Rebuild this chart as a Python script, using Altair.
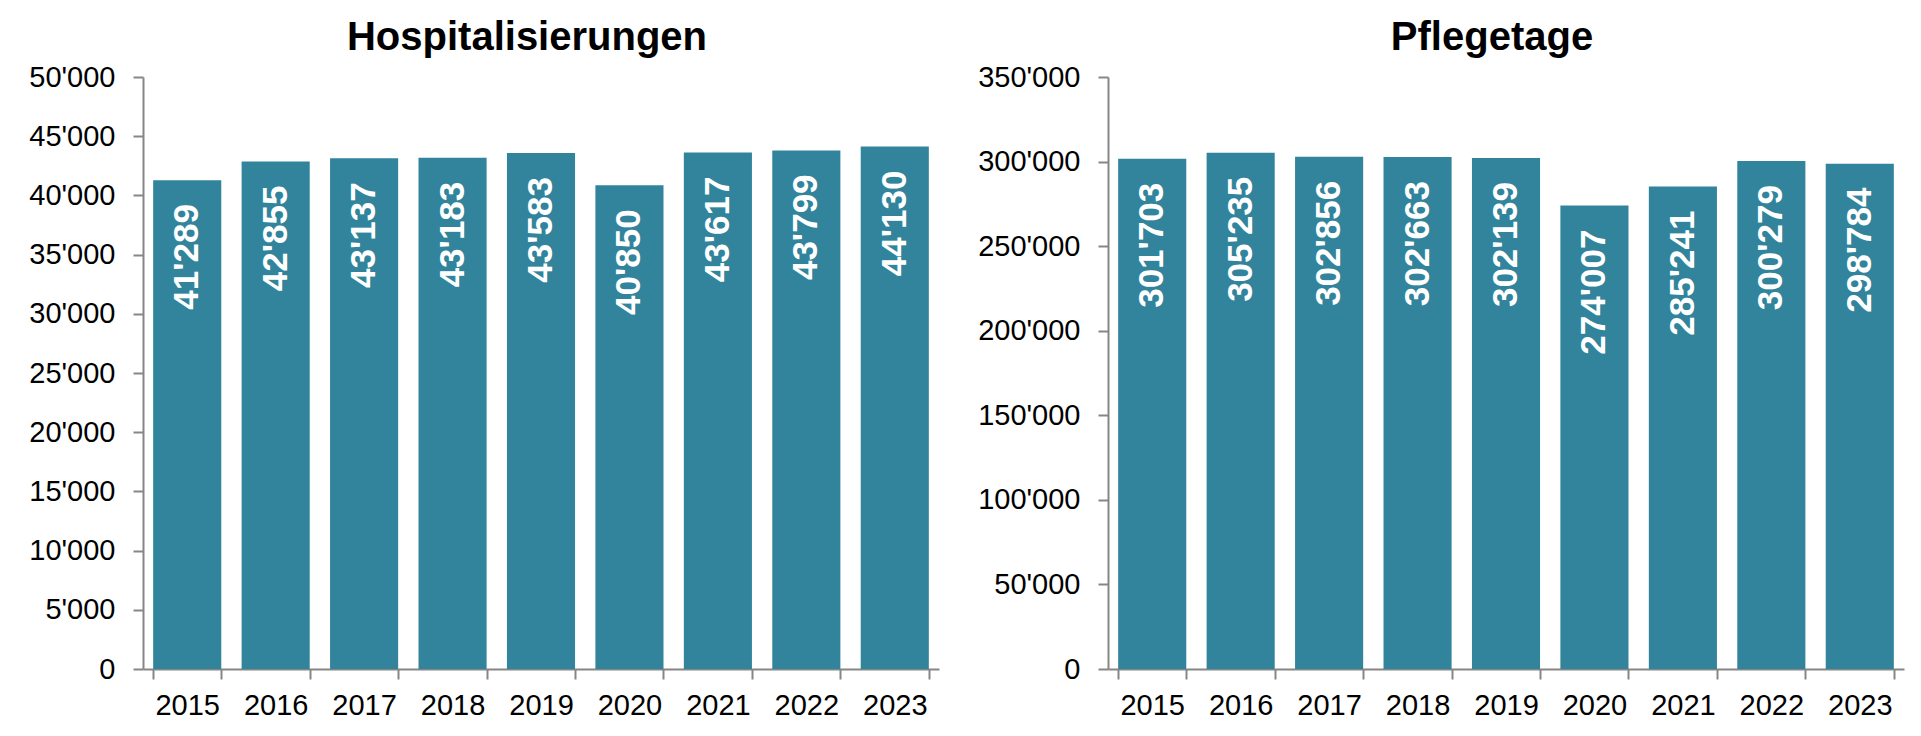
import altair as alt
import pandas as pd

years = ["2015", "2016", "2017", "2018", "2019", "2020", "2021", "2022", "2023"]
hospitalisierungen = [41289, 42855, 43137, 43183, 43583, 40850, 43617, 43799, 44130]
pflegetage = [301703, 305235, 302856, 302663, 302139, 274007, 285241, 300279, 298784]

TEAL = "#31849B"
AXIS_GRAY = "#868686"
FONT = "Liberation Sans"


def fmt(v):
    return f"{v:,}".replace(",", "'")


def panel(values, title, ymax, step):
    df = pd.DataFrame({"year": years, "value": values, "label": [fmt(v) for v in values]})
    base = alt.Chart(df)
    bars = base.mark_bar(color=TEAL).encode(
        x=alt.X(
            "year:N",
            scale=alt.Scale(paddingInner=0.23, paddingOuter=0.115),
            axis=alt.Axis(title=None, labelAngle=0, tickBand="extent", labelPadding=12),
        ),
        y=alt.Y(
            "value:Q",
            scale=alt.Scale(domain=[0, ymax], nice=False),
            axis=alt.Axis(
                title=None,
                values=list(range(0, ymax + 1, step)),
                labelExpr="replace(format(datum.value, ','), ',', \"'\")",
                labelPadding=18,
            ),
        ),
    )
    text = base.mark_text(
        angle=270,
        align="right",
        baseline="middle",
        dx=-24,
        color="white",
        fontSize=35,
        fontWeight="bold",
        font=FONT,
    ).encode(x="year:N", y="value:Q", text="label:N")
    return alt.layer(bars, text).properties(
        width=796,
        height=592,
        title=alt.TitleParams(
            text=title,
            fontSize=40,
            font=FONT,
            fontWeight="bold",
            color="black",
            anchor="middle",
            frame="group",
            dx=-14,
            baseline="alphabetic",
            offset=-27,
        ),
    )


chart = (
    alt.hconcat(
        panel(hospitalisierungen, "Hospitalisierungen", 50000, 5000),
        panel(pflegetage, "Pflegetage", 350000, 50000),
        spacing=38,
    )
    .properties(padding={"left": 20, "top": 10, "right": 5, "bottom": 5}, background="white")
    .configure_view(stroke=None)
    .configure_axis(
        grid=False,
        domainColor=AXIS_GRAY,
        domainWidth=2,
        tickColor=AXIS_GRAY,
        tickWidth=2,
        tickSize=10,
        labelFontSize=29,
        labelFont=FONT,
        labelColor="black",
    )
)

chart.save("out.html", embed_options={"renderer": "svg", "actions": False})
